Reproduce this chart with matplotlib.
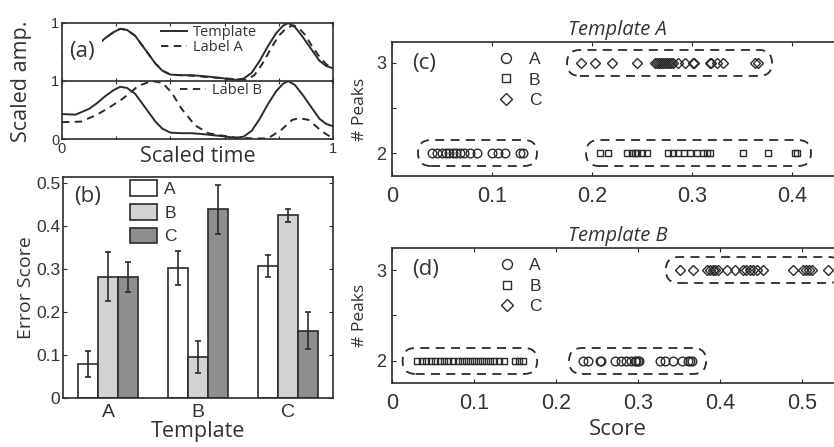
import numpy as np
import matplotlib
matplotlib.use('Agg')
import matplotlib.pyplot as plt
from matplotlib.patches import FancyBboxPatch

plt.rcParams['font.family'] = ['Liberation Sans', 'DejaVu Sans']
LABEL_FONT = ['Open Sans', 'DejaVu Sans']
INK = '#2b2b2b'
TXT = '#333333'

# ---- (a) scaled waveforms
tpl_t = [0.00, 0.05, 0.10, 0.13, 0.16, 0.19, 0.215, 0.24, 0.27, 0.295, 0.32, 0.345, 0.37, 0.40,
         0.44, 0.48, 0.53, 0.59, 0.64, 0.67, 0.70, 0.73, 0.76, 0.79, 0.815, 0.835, 0.86, 0.89,
         0.92, 0.95, 0.975, 1.00]
tpl_v = [0.43, 0.42, 0.52, 0.62, 0.74, 0.84, 0.90, 0.88, 0.78, 0.62, 0.46, 0.30, 0.18, 0.11,
         0.10, 0.10, 0.08, 0.05, 0.02, 0.04, 0.14, 0.35, 0.60, 0.82, 0.95, 1.00, 0.93, 0.75,
         0.55, 0.35, 0.26, 0.22]
labA_t = [0.00, 0.05, 0.10, 0.13, 0.16, 0.19, 0.215, 0.24, 0.27, 0.295, 0.32, 0.345, 0.37, 0.40,
          0.44, 0.48, 0.53, 0.59, 0.64, 0.68, 0.71, 0.74, 0.77, 0.80, 0.83, 0.855, 0.875, 0.90,
          0.925, 0.95, 0.975, 1.00]
labA_v = [0.43, 0.42, 0.52, 0.62, 0.74, 0.84, 0.90, 0.88, 0.78, 0.62, 0.46, 0.30, 0.18, 0.11,
          0.10, 0.09, 0.07, 0.05, 0.03, 0.02, 0.10, 0.30, 0.55, 0.78, 0.92, 0.96, 0.91, 0.78,
          0.58, 0.42, 0.29, 0.22]
labB_t = [0.00, 0.07, 0.13, 0.18, 0.22, 0.25, 0.28, 0.33, 0.37, 0.405, 0.44, 0.49, 0.54, 0.59,
          0.65, 0.71, 0.76, 0.81, 0.85, 0.875, 0.91, 0.96, 1.00]
labB_v = [0.29, 0.30, 0.42, 0.56, 0.68, 0.79, 0.91, 1.00, 0.97, 0.80, 0.53, 0.24, 0.10, 0.06,
          0.02, 0.01, 0.01, 0.16, 0.33, 0.36, 0.33, 0.13, 0.01]

# ---- (b) error scores (bars = label, groups = template)
templates = ['A', 'B', 'C']
score_A = [0.080, 0.303, 0.308]
score_B = [0.283, 0.095, 0.426]
score_C = [0.283, 0.440, 0.157]
sd_A = [0.030, 0.040, 0.025]
sd_B = [0.057, 0.037, 0.015]
sd_C = [0.035, 0.057, 0.043]

# ---- (c) template A scores / # peaks
cA_score = [0.040, 0.045, 0.050, 0.054, 0.057, 0.061, 0.064, 0.068, 0.072, 0.078, 0.085,
            0.100, 0.106, 0.113, 0.128, 0.131]
cB_score = [0.208, 0.216, 0.235, 0.240, 0.243, 0.245, 0.250, 0.255, 0.276, 0.281, 0.286,
            0.292, 0.298, 0.305, 0.311, 0.315, 0.318, 0.351, 0.376, 0.403, 0.405]
cC_score = [0.189, 0.203, 0.220, 0.245, 0.263, 0.265, 0.267, 0.269, 0.271, 0.273, 0.275,
            0.277, 0.279, 0.281, 0.286, 0.293, 0.301, 0.302, 0.318, 0.319, 0.325, 0.331,
            0.363, 0.366]
# ---- (d) template B
dA_score = [0.233, 0.239, 0.254, 0.255, 0.272, 0.279, 0.285, 0.291, 0.296, 0.298, 0.300,
            0.301, 0.327, 0.333, 0.343, 0.354, 0.361, 0.364, 0.366]
dB_score = [0.030, 0.036, 0.041, 0.047, 0.052, 0.058, 0.063, 0.068, 0.074, 0.080, 0.085,
            0.090, 0.095, 0.100, 0.105, 0.110, 0.115, 0.120, 0.125, 0.131, 0.136, 0.150,
            0.155, 0.160]
dC_score = [0.351, 0.367, 0.384, 0.388, 0.391, 0.394, 0.398, 0.408, 0.418, 0.428, 0.432,
            0.436, 0.440, 0.445, 0.453, 0.489, 0.501, 0.505, 0.509, 0.512, 0.532]
peaks_A, peaks_B, peaks_C = 2, 2, 3
peaks_dA, peaks_dB, peaks_dC = 2, 2, 3


def style(ax, lw=1.2):
    for s in ax.spines.values():
        s.set_color(INK)
        s.set_linewidth(lw)
    ax.tick_params(direction='in', colors=INK, labelcolor=TXT, top=True, right=True,
                   length=3, width=0.8)


def group_box(ax, xs, y, pad_px=14, half_px=13):
    # dashed rounded box around a cluster, sizes given in pixels
    (x0, y0), (x1, y1) = ax.transData.transform([(0, 0), (1, 1)])
    sx, sy = x1 - x0, y1 - y0
    left = min(xs) - pad_px / sx
    width = max(xs) - min(xs) + 2 * pad_px / sx
    h = 2 * half_px / sy
    r = half_px / sx
    ax.add_patch(FancyBboxPatch((left, y - h / 2), width, h,
                                boxstyle='round,pad=0,rounding_size=%g' % r,
                                mutation_aspect=sx / sy, fill=False, edgecolor=INK,
                                linewidth=1.3, linestyle=(0, (5, 3.5)), clip_on=False))


fig = plt.figure(figsize=(8.34, 4.47), dpi=100)

# ================= (a)
ax_t = fig.add_axes([0.0743, 0.8188, 0.3249, 0.1298])
ax_b = fig.add_axes([0.0743, 0.6890, 0.3249, 0.1298])
for ax in (ax_t, ax_b):
    style(ax)
    ax.set_xlim(0, 1)
    ax.set_ylim(0, 1.0)
    ax.set_xticks([0, 0.2, 0.4, 0.6, 0.8, 1])
    ax.tick_params(labelsize=10.5, length=2, pad=2)
ax_t.set_xticklabels([])
ax_t.set_yticks([0, 1])
ax_t.set_yticklabels(['', '1'])
ax_b.set_yticks([0, 1])
ax_b.set_yticklabels(['0', '1'])
ax_b.set_xticklabels(['0', '', '', '', '', '1'])
ax_t.spines['bottom'].set_visible(False)

l_tpl, = ax_t.plot(tpl_t, tpl_v, color=INK, lw=1.4)
l_a, = ax_t.plot(labA_t, labA_v, color=INK, lw=1.4, ls=(0, (3.8, 2.8)))
ax_b.plot(tpl_t, tpl_v, color=INK, lw=1.4)
l_b, = ax_b.plot(labB_t, labB_v, color=INK, lw=1.4, ls=(0, (3.8, 2.8)))
ax_t.text(0.075, 0.5, '(a)', transform=ax_t.transAxes, fontsize=16, family=LABEL_FONT,
          color=TXT, ha='center', va='center', zorder=5,
          bbox=dict(facecolor='white', edgecolor='none', pad=5))
leg = ax_t.legend([l_tpl, l_a], ['Template', 'Label A'], loc='upper left',
                  bbox_to_anchor=(0.365, 0.97), frameon=False, borderpad=0, borderaxespad=0,
                  handlelength=1.8, handletextpad=0.4, labelspacing=0.05,
                  prop={'family': LABEL_FONT, 'size': 10.5})
for t in leg.get_texts():
    t.set_color(TXT)
leg2 = ax_b.legend([l_b], ['Label B'], loc='upper left', bbox_to_anchor=(0.435, 0.97),
                   frameon=False, borderpad=0, borderaxespad=0, handlelength=1.8,
                   handletextpad=0.4, prop={'family': LABEL_FONT, 'size': 10.5})
for t in leg2.get_texts():
    t.set_color(TXT)
fig.text(0.026, 0.819, 'Scaled amp.', rotation=90, ha='center', va='center',
         fontsize=15.5, family=LABEL_FONT, color=TXT)
fig.text(0.237, 0.649, 'Scaled time', ha='center', va='center',
         fontsize=15.5, family=LABEL_FONT, color=TXT)

# ================= (b)
axb = fig.add_axes([0.0755, 0.1096, 0.3237, 0.4944])
style(axb)
x = np.arange(1, len(templates) + 1)
w = 0.222
bar_kw = dict(edgecolor=INK, linewidth=1.2, zorder=2,
              error_kw=dict(ecolor=INK, elinewidth=1.2, capsize=2.2, capthick=1.2))
axb.bar(x - w, score_A, w, yerr=sd_A, color='white', label='A', **bar_kw)
axb.bar(x, score_B, w, yerr=sd_B, color='#d2d2d2', label='B', **bar_kw)
axb.bar(x + w, score_C, w, yerr=sd_C, color='#8e8e8e', label='C', **bar_kw)
axb.set_xlim(0.5, 3.5)
axb.set_ylim(0, 0.515)
axb.set_xticks(x)
axb.set_xticklabels(templates)
axb.set_yticks([0, 0.1, 0.2, 0.3, 0.4, 0.5])
axb.set_yticklabels(['0', '0.1', '0.2', '0.3', '0.4', '0.5'])
axb.tick_params(axis='y', labelsize=12.5, pad=2)
axb.tick_params(axis='x', labelsize=14, pad=4, length=0)
axb.set_xlabel('Template', fontsize=15.5, family=LABEL_FONT, color=TXT, labelpad=0)
axb.set_ylabel('Error Score', fontsize=14, family=LABEL_FONT, color=TXT, labelpad=1)
axb.text(0.04, 0.91, '(b)', transform=axb.transAxes, fontsize=16, family=LABEL_FONT,
         color=TXT, ha='left', va='center')
lb = axb.legend(loc='upper left', bbox_to_anchor=(0.25, 0.985), frameon=False, borderpad=0,
                borderaxespad=0, handlelength=1.55, handleheight=1.0, handletextpad=0.4,
                labelspacing=0.4, fontsize=12.5)
for t in lb.get_texts():
    t.set_color(TXT)

# ================= (c) and (d)
mk = dict(linestyle='none', markerfacecolor='none', markeredgecolor=INK, markeredgewidth=1.0)


def peaks_panel(ax, sA, sB, sC, pA, pB, pC, xmax, ylim, title, tag):
    style(ax)
    ax.set_xlim(0, xmax)
    ax.set_ylim(*ylim)
    ax.plot(sA, [pA] * len(sA), marker='o', markersize=6.2, label='A', **mk)
    ax.plot(sB, [pB] * len(sB), marker='s', markersize=5, label='B', **mk)
    ax.plot(sC, [pC] * len(sC), marker='D', markersize=5.5, label='C', **mk)
    for xs, p in ((sA, pA), (sB, pB), (sC, pC)):
        group_box(ax, xs, p)
    ax.set_xticks(np.arange(0, xmax, 0.1))
    ax.set_xticklabels(['0'] + ['%.1f' % v for v in np.arange(0.1, xmax, 0.1)])
    ax.set_yticks([2, 2.5, 3])
    ax.set_yticklabels(['2', '', '3'])
    ax.tick_params(axis='x', labelsize=15.5, pad=7)
    ax.tick_params(axis='y', labelsize=13, pad=4)
    ax.set_ylabel('# Peaks', fontsize=12.5, family=LABEL_FONT, color=TXT, labelpad=6)
    ax.set_title(title, fontsize=14.5, family=LABEL_FONT, style='italic', color=TXT, pad=5)
    ax.text(0.045, 0.84, tag, transform=ax.transAxes, fontsize=16, family=LABEL_FONT,
            color=TXT, ha='left', va='center')
    lg = ax.legend(loc='upper left', bbox_to_anchor=(0.235, 0.925), frameon=False,
                   borderpad=0, borderaxespad=0, handlelength=1.0, handletextpad=0.8,
                   labelspacing=0.3, fontsize=12.5, markerscale=1.15)
    for t in lg.get_texts():
        t.set_color(TXT)


axc = fig.add_axes([0.4700, 0.6063, 0.5396, 0.2998])
peaks_panel(axc, cA_score, cB_score, cC_score, peaks_A, peaks_B, peaks_C,
            0.45, (1.745, 3.233), 'Template A', '(c)')
axd = fig.add_axes([0.4700, 0.1432, 0.5408, 0.3020])
peaks_panel(axd, dA_score, dB_score, dC_score, peaks_dA, peaks_dB, peaks_dC,
            0.55, (1.758, 3.242), 'Template B', '(d)')
axd.set_xlabel('Score', fontsize=16, family=LABEL_FONT, color=TXT, labelpad=4)

fig.savefig('out.png', dpi=100)
